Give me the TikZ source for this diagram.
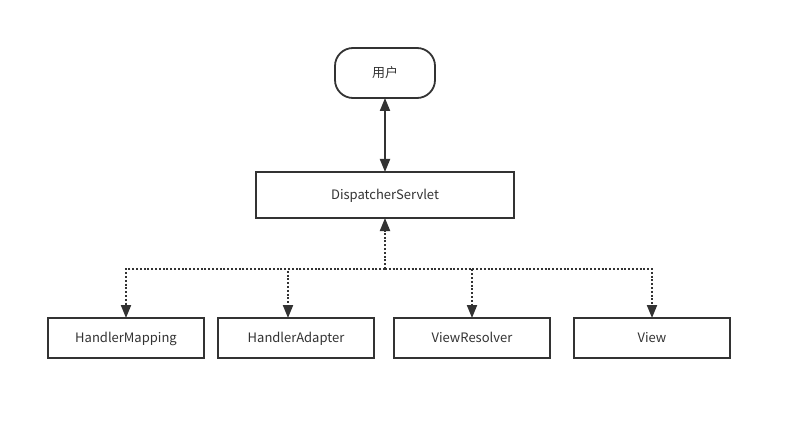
\documentclass[tikz,border=0pt]{standalone}
\usepackage{fontspec}
\setmainfont{Noto Sans CJK SC}
\usepackage{tikz}
\usetikzlibrary{%
  positioning
 ,arrows.meta
}
\definecolor{ink}{HTML}{333333}
\tikzstyle{flow}=[x=1pt,y=1pt,font=\fontsize{13}{15}\selectfont,text=ink]
\tikzstyle{box}=[rectangle,draw=ink,line width=1.8pt,fill=white,inner sep=0pt,outer sep=0pt,text height=11pt,text depth=2pt]
\tikzstyle{userbox}=[box,rounded corners=18pt,minimum width=100pt,minimum height=50pt]
\tikzstyle{mainbox}=[box,minimum width=258pt,minimum height=46pt]
\tikzstyle{partbox}=[box,minimum width=156pt,minimum height=40pt]
\tikzstyle{solidlink}=[draw=ink,line width=2pt,{Triangle[length=13pt,width=10pt]}-{Triangle[length=13pt,width=10pt]}]
\tikzstyle{dotlink}=[draw=ink,line width=2pt,dash pattern=on 2pt off 1.8pt]
\tikzstyle{dothead}=[-{Triangle[length=13pt,width=10pt]}]

\begin{document}
\begin{tikzpicture}[flow]
  \useasboundingbox[fill=white] (0,0) rectangle (792,421);
  \node[userbox] (user) at (385,348) {用户};
  \node[mainbox,below=74pt of user] (ds) {DispatcherServlet};
  \node[partbox] (hm) at (126,83) {HandlerMapping};
  \node[partbox,right=14pt of hm] (ha) {HandlerAdapter};
  \node[partbox,right=20pt of ha] (vr) {ViewResolver};
  \node[partbox,right=24pt of vr] (view) {View};
  \coordinate (fork) at (385,152);
% 
  \path[solidlink] (user) -- (ds);
  \path[dotlink,dothead] (fork) -- (ds);
  \path[dotlink,dothead] (fork) -| (hm);
  \path[dotlink,dothead] (fork) -| ([xshift=-8pt]ha.north);
  \path[dotlink,dothead] (fork) -| (vr);
  \path[dotlink,dothead] (fork) -| (view);
\end{tikzpicture}
\end{document}
